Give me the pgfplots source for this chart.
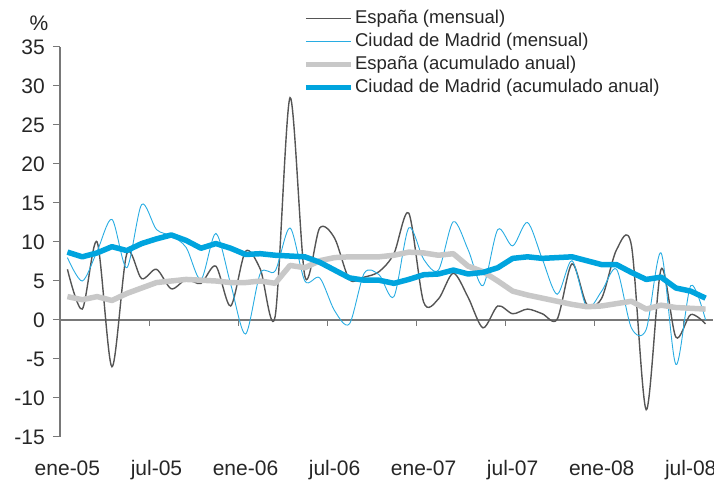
\documentclass[border=0pt]{standalone}
\usepackage{fontspec}
\setmainfont{Liberation Sans}
\usepackage{pgfplots}
\pgfplotsset{compat=1.18}
\definecolor{espgray}{RGB}{85,85,85}
\definecolor{madblue}{RGB}{0,164,222}
\definecolor{madthin}{RGB}{40,172,226}
\definecolor{lightg}{RGB}{200,200,200}
\definecolor{axisgray}{RGB}{120,120,120}
\begin{document}
\begin{tikzpicture}[x=1pt,y=1pt]
\path[use as bounding box] (0,0) rectangle (714,481);
\begin{axis}[
  at={(60pt,44pt)}, anchor=south west,
  scale only axis, width=653pt, height=390pt,
  xmin=-0.5, xmax=43.5, ymin=-15, ymax=35,
  axis y line=left, axis x line=bottom,
  axis line style={-, draw=axisgray, line width=1.3pt},
  x axis line style={draw=none},
  ytick={-15,-10,...,35},
  tick align=outside,
  major tick length=7pt,
  ytick style={draw=axisgray, line width=1pt},
  xtick={0,6,...,42},
  xticklabels={ene-05,jul-05,ene-06,jul-06,ene-07,jul-07,ene-08,jul-08},
  xtick style={draw=none},
  /pgf/number format/assume math mode=true,
  yticklabel style={font=\fontsize{21}{24}\selectfont, text=black!85, inner sep=0pt, xshift=-8pt},
  xticklabel style={font=\fontsize{21}{24}\selectfont, text=black!85, anchor=base, inner sep=0pt},
  every x tick label/.append style={yshift=-32pt},
  legend style={at={(rel axis cs:0.372,1.1)}, anchor=north west, draw=none, fill=none,
    font=\fontsize{18.5}{20}\selectfont, text=black!85, row sep=2pt, inner sep=0pt,
    nodes={inner sep=1.5pt, text depth=4pt, text height=14pt}},
  legend cell align=left,
  legend image code/.code={\draw[#1] (0pt,0pt) -- (45pt,0pt);},
  clip=false,
]
\draw[axisgray, line width=1.3pt] (axis cs:-0.5,0) -- (axis cs:43.5,0);
\pgfplotsinvokeforeach{-0.5,5.5,11.5,17.5,23.5,29.5,35.5,41.5}{\draw[axisgray,line width=1pt] (axis cs:#1,0) -- ++(0pt,-6pt);}

\addplot[espgray, line width=1.4pt, smooth] coordinates {
(0,6.5) (1,1.4) (2,10.0) (3,-6.0) (4,8.5) (5,5.3) (6,6.5) (7,4.0) (8,5.2) (9,4.7)
(10,6.9) (11,1.8) (12,8.8) (13,6.5) (14,0.5) (15,28.5) (16,5.6) (17,11.8) (18,10.5) (19,5.2)
(20,5.5) (21,6.2) (22,8.5) (23,13.7) (24,2.3) (25,2.7) (26,6.0) (27,2.9) (28,-1.0) (29,1.8)
(30,0.8) (31,1.4) (32,0.8) (33,0.1) (34,7.2) (35,2.0) (36,2.8) (37,9.0) (38,9.6) (39,-11.5)
(40,6.5) (41,-2.2) (42,0.7) (43,-0.5)};
\addlegendentry{España (mensual)}

\addplot[madthin, line width=0.9pt, smooth] coordinates {
(0,8.0) (1,5.0) (2,8.8) (3,12.9) (4,6.7) (5,14.8) (6,11.6) (7,10.8) (8,9.3) (9,5.2)
(10,11.1) (11,4.6) (12,-1.8) (13,6.0) (14,6.3) (15,11.8) (16,5.0) (17,5.4) (18,1.2) (19,-0.5)
(20,6.0) (21,5.8) (22,3.0) (23,11.8) (24,7.8) (25,6.4) (26,12.6) (27,9.0) (28,4.4) (29,11.6)
(30,9.5) (31,12.5) (32,7.8) (33,3.3) (34,7.6) (35,1.6) (36,3.7) (37,6.5) (38,-1.0) (39,-1.2)
(40,8.6) (41,-5.7) (42,4.4) (43,0.0)};
\addlegendentry{Ciudad de Madrid (mensual)}

\addplot[lightg, line width=5.5pt, line join=round] coordinates {
(0,3.0) (1,2.6) (2,3.0) (3,2.5) (4,3.4) (5,4.1) (6,4.8) (7,5.0) (8,5.2) (9,5.1)
(10,5.0) (11,4.8) (12,4.8) (13,5.0) (14,4.7) (15,7.0) (16,6.7) (17,7.6) (18,8.0) (19,8.1)
(20,8.1) (21,8.1) (22,8.3) (23,8.7) (24,8.6) (25,8.3) (26,8.5) (27,6.9) (28,6.2) (29,5.0)
(30,3.7) (31,3.2) (32,2.8) (33,2.4) (34,2.0) (35,1.7) (36,1.8) (37,2.1) (38,2.4) (39,1.4)
(40,1.9) (41,1.6) (42,1.5) (43,1.4)};
\addlegendentry{España (acumulado anual)}

\addplot[madblue, line width=5.5pt, line join=round] coordinates {
(0,8.7) (1,8.1) (2,8.6) (3,9.4) (4,8.9) (5,9.8) (6,10.4) (7,10.9) (8,10.2) (9,9.2)
(10,9.8) (11,9.2) (12,8.4) (13,8.5) (14,8.3) (15,8.2) (16,8.1) (17,7.4) (18,6.4) (19,5.4)
(20,5.1) (21,5.1) (22,4.7) (23,5.2) (24,5.8) (25,5.9) (26,6.4) (27,5.9) (28,6.1) (29,6.7)
(30,7.9) (31,8.1) (32,7.9) (33,8.0) (34,8.1) (35,7.6) (36,7.1) (37,7.1) (38,6.1) (39,5.2)
(40,5.5) (41,4.1) (42,3.7) (43,2.8)};
\addlegendentry{Ciudad de Madrid (acumulado anual)}

\node[font=\fontsize{21}{24}\selectfont, text=black!85] at (rel axis cs:0,1) [xshift=-21pt, yshift=24pt] {\%};
\end{axis}
\end{tikzpicture}
\end{document}
